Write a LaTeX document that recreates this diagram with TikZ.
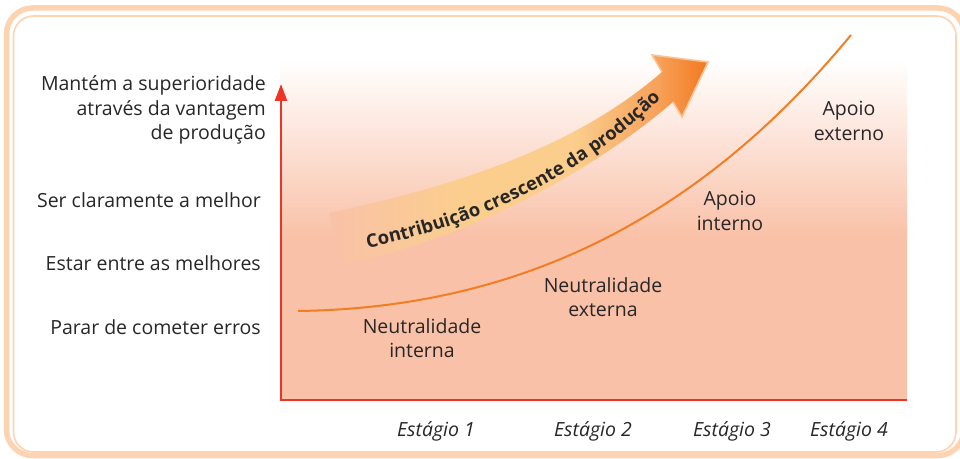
\documentclass[tikz,border=0pt]{standalone}
\usepackage{fontspec}
\setmainfont{Open Sans}
\usetikzlibrary{arrows.meta,decorations.text}

\definecolor{framecol}{RGB}{253,211,178}
\definecolor{bgpeach}{RGB}{249,193,168}
\definecolor{axisred}{RGB}{238,52,36}
\definecolor{curveor}{RGB}{243,125,35}
\definecolor{lightyel}{RGB}{251,206,142}
\definecolor{midor}{RGB}{247,163,92}
\definecolor{deepor}{RGB}{242,121,32}
\definecolor{headrim}{RGB}{250,196,150}
\definecolor{textgray}{RGB}{40,38,38}

\pgfdeclarehorizontalshading{arrowshade}{100bp}{color(0bp)=(bgpeach); color(25bp)=(bgpeach);
  color(42bp)=(lightyel); color(57bp)=(lightyel); color(68bp)=(midor); color(75bp)=(deepor); color(100bp)=(deepor)}

\tikzset{
  lbl/.style={font=\fontsize{19.5}{24.5}\selectfont, text=textgray, align=center, inner sep=0pt},
  ylbl/.style={lbl, align=right, anchor=east},
  stagelbl/.style={lbl, font=\fontsize{19.5}{24.5}\selectfont\itshape},
  axisline/.style={axisred, line width=2.6pt}
}

\begin{document}
\begin{tikzpicture}[x=1pt,y=1pt]
	\useasboundingbox (0,0) rectangle (960,458);
	% frame
	\draw[framecol, line width=5.5pt, rounded corners=26pt] (6.5,2.5) rectangle (964,450);
	\draw[framecol, line width=1.6pt, rounded corners=20pt] (13.5,6) rectangle (956,442);
	% background of the chart
	\fill[bgpeach] (280,58) rectangle (907,221);
	\shade[top color=white, bottom color=bgpeach] (280,221) rectangle (907,398);
	% broad arrow
	\coordinate (tu) at (329,245); \coordinate (tl) at (341,193);
	\coordinate (ju) at (662,386); \coordinate (jl) at (673,356);
	\coordinate (bt) at (652,403); \coordinate (tip) at (708,396);
	\coordinate (bb) at (682,341);
	\shade[shading=arrowshade]
		(tu) .. controls (470,275) and (580,315) .. (ju) -- (bt) -- (tip) -- (bb) -- (jl)
		.. controls (590,285) and (470,220) .. (tl) -- cycle;
	\draw[headrim, line width=1.6pt, line join=miter] (ju) -- (bt) -- (tip) -- (bb) -- (jl);
	\path[decorate, decoration={text along path, text align=center,
		text={|\fontsize{18.5}{22}\selectfont\bfseries\color{textgray}|Contribuição crescente da produção}}]
		(358,208) .. controls (470,230) and (575,275) .. (668,366);
	% curve
	\coordinate (s1) at (298,147); \coordinate (s2) at (520,150);
	\coordinate (s3) at (700,240); \coordinate (s4) at (851,423);
	\draw[curveor, line width=2pt] (s1) .. controls (s2) and (s3) .. (s4);
	% axes
	\draw[axisline] (280,58) -- (907,58);
	\draw[axisline, -{Triangle[length=17pt,width=12pt]}] (281,57) -- (281,374);
	% level labels
	\node[ylbl] (l4) at (266,348) {Mantém a superioridade\\através da vantagem\\de produção};
	\node[ylbl] (l3) at (261,258) {Ser claramente a melhor};
	\node[ylbl] (l2) at (261,195) {Estar entre as melhores};
	\node[ylbl] (l1) at (261,131) {Parar de cometer erros};
	% stage labels
	\foreach \x/\n in {436/1, 593/2, 732/3, 849/4}
	{
		\node[stagelbl] (e\n) at (\x,27) {Estágio \n};
	}
	% curve labels
	\node[lbl] (c1) at (422,120) {Neutralidade\\interna};
	\node[lbl] (c2) at (603,161) {Neutralidade\\externa};
	\node[lbl] (c3) at (730,247) {Apoio\\interno};
	\node[lbl] (c4) at (849,337) {Apoio\\externo};
\end{tikzpicture}
\end{document}
